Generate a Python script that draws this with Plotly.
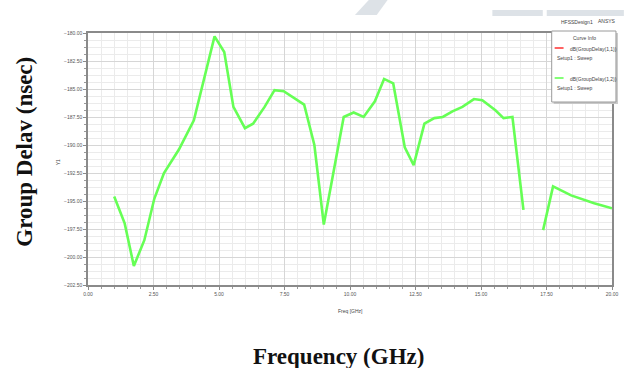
import plotly.graph_objects as go

# Group delay sweep, S21 (GHz, nsec); None marks the gap in the solved points
freq_ghz = [1.00, 1.40, 1.75, 2.15, 2.53, 2.90, 3.47, 4.04, 4.83, 5.20, 5.55, 5.99,
            6.30, 6.74, 7.12, 7.47, 8.25, 8.64, 9.00, 9.76, 10.14, 10.52, 10.95,
            11.30, 11.65, 12.09, 12.43, 12.84, 13.22, 13.54, 13.91, 14.29, 14.73,
            15.05, 15.55, 15.86, 16.20, 16.62, None, 17.37, 17.75, 18.44, 19.32, 20.00]
group_delay = [-194.6, -197.0, -200.8, -198.5, -194.8, -192.5, -190.4, -187.8, -180.3,
               -181.7, -186.6, -188.5, -188.1, -186.6, -185.1, -185.2, -186.4, -190.0,
               -197.1, -187.5, -187.1, -187.5, -186.1, -184.1, -184.5, -190.2, -191.8,
               -188.1, -187.6, -187.5, -187.0, -186.6, -185.9, -186.0, -186.9, -187.6,
               -187.5, -195.8, None, -197.6, -193.7, -194.5, -195.2, -195.65]

x_ticks = [0.0, 2.5, 5.0, 7.5, 10.0, 12.5, 15.0, 17.5, 20.0]
y_ticks = [-180.0, -182.5, -185.0, -187.5, -190.0, -192.5, -195.0, -197.5, -200.0, -202.5]

legend_entries = ["dB(GroupDelay(1,1))", "dB(GroupDelay(1,2))"]
legend_colors = ["#ff3b3b", "#66ff55"]

W, H = 630, 368
L, R, T, B = 88, 12, 33, 83
PW, PH = W - L - R, H - T - B


def px(x):
    return (x - L) / PW


def py(y):
    return (H - B - y) / PH


fig = go.Figure()
fig.add_trace(go.Scatter(
    x=freq_ghz, y=group_delay, mode="lines",
    line=dict(color=legend_colors[1], width=2.6),
    connectgaps=False, showlegend=False, hoverinfo="skip",
))

tick_font = dict(family="Liberation Sans, Arial", size=5, color="#555555")
axis_common = dict(
    showline=True, linecolor="#8a8a8a", linewidth=1.5, mirror=True,
    ticks="outside", ticklen=3, tickcolor="#8a8a8a", tickwidth=1,
    showgrid=True, gridcolor="#d6d6d6", gridwidth=1,
    zeroline=False, tickfont=tick_font, tickformat=".2f",
)

fig.update_xaxes(
    range=[0, 20], tickvals=x_ticks,
    minor=dict(dtick=0.5, showgrid=True, gridcolor="#ebebeb", ticks="outside",
               ticklen=2, tickcolor="#9a9a9a"),
    **axis_common,
)
fig.update_yaxes(
    range=[-202.5, -180], tickvals=y_ticks,
    minor=dict(dtick=0.625, showgrid=True, gridcolor="#ebebeb", ticks="outside",
               ticklen=2, tickcolor="#9a9a9a"),
    **axis_common,
)

shapes = []
annotations = []

# light watermark strokes across the top margin
wm = "#dde2e7"
shapes.append(dict(type="path", xref="paper", yref="paper", line=dict(width=0),
                   fillcolor=wm, layer="below",
                   path=f"M {px(372)} {py(0)} L {px(391)} {py(0)} L {px(380)} {py(15)} L {px(358)} {py(15)} Z"))
shapes.append(dict(type="rect", xref="paper", yref="paper", line=dict(width=0),
                   fillcolor=wm, layer="below",
                   x0=px(497), x1=px(548), y0=py(16), y1=py(10)))
shapes.append(dict(type="rect", xref="paper", yref="paper", line=dict(width=0),
                   fillcolor=wm, layer="below",
                   x0=px(552), x1=px(630), y0=py(16), y1=py(10)))

# curve info box with drop shadow
shapes.append(dict(type="rect", xref="paper", yref="paper", line=dict(width=0),
                   fillcolor="#c8c8c8", x0=px(559), x1=px(624), y0=py(104), y1=py(33)))
shapes.append(dict(type="rect", xref="paper", yref="paper",
                   line=dict(color="#9a9a9a", width=1), fillcolor="white",
                   x0=px(557), x1=px(622), y0=py(102), y1=py(31)))

small = dict(family="Liberation Sans, Arial", size=5, color="#444444")
annotations.append(dict(text="Curve Info", x=px(590), y=py(38), xref="paper", yref="paper",
                        showarrow=False, font=small, xanchor="center", yanchor="middle"))
for i, (name, col) in enumerate(zip(legend_entries, legend_colors)):
    yy = 48 + 30 * i
    shapes.append(dict(type="line", xref="paper", yref="paper",
                       line=dict(color=col, width=1.6),
                       x0=px(560), x1=px(569), y0=py(yy), y1=py(yy)))
    annotations.append(dict(text=name, x=px(574), y=py(yy + 1), xref="paper", yref="paper",
                            showarrow=False, font=small, xanchor="left", yanchor="middle"))
    annotations.append(dict(text="Setup1 : Sweep", x=px(560), y=py(yy + 10), xref="paper",
                            yref="paper", showarrow=False, font=small,
                            xanchor="left", yanchor="middle"))

annotations += [
    dict(text="HFSSDesign1", x=px(583), y=py(22), xref="paper", yref="paper",
         showarrow=False, font=small, xanchor="center", yanchor="middle"),
    dict(text="ANSYS", x=px(613), y=py(21), xref="paper", yref="paper",
         showarrow=False, font=small, xanchor="center", yanchor="middle"),
    dict(text="Freq [GHz]", x=px(354), y=py(311), xref="paper", yref="paper",
         showarrow=False, font=small, xanchor="center", yanchor="middle"),
    dict(text="Y1", x=px(58), y=py(162), xref="paper", yref="paper", textangle=-90,
         showarrow=False, font=small, xanchor="center", yanchor="middle"),
    dict(text="<b>Group Delav (nsec)</b>", x=px(23), y=py(152), xref="paper", yref="paper",
         textangle=-90, showarrow=False,
         font=dict(family="Liberation Serif, Times New Roman", size=23, color="#111111"),
         xanchor="center", yanchor="middle"),
    dict(text="<b>Frequency (GHz)</b>", x=px(341), y=py(356), xref="paper", yref="paper",
         showarrow=False,
         font=dict(family="Liberation Serif, Times New Roman", size=23, color="#111111"),
         xanchor="center", yanchor="middle"),
]

fig.update_layout(
    width=W, height=H,
    margin=dict(l=L, r=R, t=T, b=B),
    paper_bgcolor="white", plot_bgcolor="white",
    shapes=shapes, annotations=annotations,
)

fig.write_html("out.html")
